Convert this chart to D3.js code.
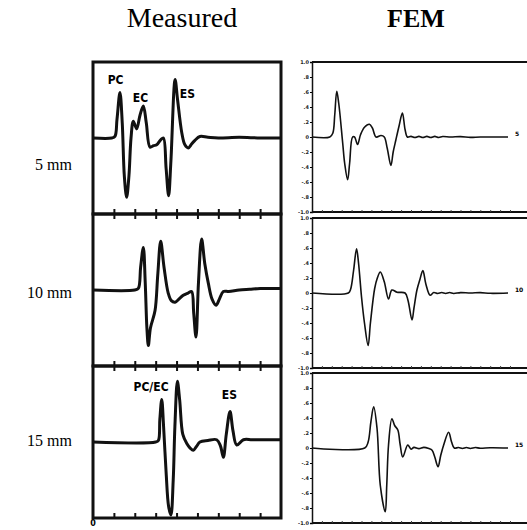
<!DOCTYPE html>
<html>
<head>
<meta charset="utf-8">
<script src="https://cdn.jsdelivr.net/npm/d3@7"></script>
<style>
  body { margin: 0; background: #fff; }
  svg { display: block; }
</style>
</head>
<body>
<main></main>
<script>
// rows and column titles
const rowLabels = ['5 mm', '10 mm', '15 mm'];
const columnTitles = ['Measured', 'FEM'];

// measured traces: [time, amplitude]
const measured5 = [[0,0],[0.9,0],[1.05,0.02],[1.15,0.25],[1.29,0.6],[1.4,0.2],[1.5,-0.5],[1.61,-0.78],[1.72,-0.5],[1.82,0],[1.93,0.22],[2.09,0.12],[2.25,0.3],[2.41,0.42],[2.55,0.2],[2.73,-0.12],[2.9,-0.1],[3.05,-0.09],[3.25,-0.02],[3.37,0],[3.5,-0.4],[3.62,-0.76],[3.73,-0.3],[3.93,0.77],[4.05,0.5],[4.25,0.07],[4.4,-0.09],[4.56,-0.13],[4.72,-0.08],[4.88,-0.03],[5.12,0.02],[5.5,0.01],[6,0],[7,0.01],[8,0],[9,0]];
const measured10 = [[0,0],[2.0,0],[2.17,0.02],[2.28,0.3],[2.41,0.56],[2.5,0.1],[2.58,-0.5],[2.65,-0.73],[2.75,-0.5],[2.97,-0.27],[3.1,0.2],[3.24,0.64],[3.4,0.3],[3.6,-0.04],[3.75,-0.14],[3.93,-0.16],[4.15,-0.11],[4.32,-0.07],[4.55,-0.04],[4.72,-0.02],[4.82,-0.3],[4.93,-0.62],[5.05,0.1],[5.2,0.67],[5.35,0.35],[5.52,0.09],[5.7,-0.12],[5.89,-0.2],[6.05,-0.12],[6.24,-0.02],[6.5,-0.02],[7,0],[7.5,0.01],[8,0.02],[9,0.02]];
const measured15 = [[0,0],[3.0,0],[3.13,0.02],[3.2,0.3],[3.29,0.56],[3.38,0.2],[3.5,-0.4],[3.62,-0.85],[3.73,-0.96],[3.84,-0.5],[3.92,0.2],[4.04,0.8],[4.15,0.55],[4.3,0.1],[4.49,-0.02],[4.65,-0.08],[4.8,-0.11],[4.95,-0.06],[5.12,0],[5.5,0.02],[5.92,0.03],[6.1,-0.05],[6.24,-0.2],[6.38,0.1],[6.56,0.4],[6.7,0.15],[6.88,-0.04],[7.2,0.03],[7.6,0.03],[8,0.03],[9,0.03]];

// FEM traces: [time, amplitude]
const fem5 = [[0,0],[18,0],[21,0.05],[23,0.3],[25,0.61],[27,0.45],[31,-0.08],[33,-0.35],[36,-0.57],[38,-0.35],[41,0],[43,0],[46,-0.1],[49,0.03],[53,0.13],[58,0.17],[61,0.12],[64.7,0],[69.7,0.02],[73,0],[76,-0.15],[79.7,-0.38],[82,-0.2],[84.7,-0.04],[88,0.15],[91.3,0.32],[94,0.1],[96.3,0],[100,0.008],[104,-0.006],[108,0.008],[112,-0.006],[116,0.008],[120,-0.006],[124,0.008],[128,-0.006],[132,0.006],[140,0],[150,0.005],[160,-0.005],[170,0],[198,0]];
const fem10 = [[0,0],[36.7,0],[39,0.05],[42,0.3],[45,0.59],[47,0.4],[50,-0.05],[53,-0.4],[56.7,-0.7],[59,-0.4],[63.3,0.06],[66,0.2],[69,0.28],[73,0.15],[77.3,-0.08],[80.7,0.04],[86,0.01],[94,0],[97,-0.1],[101,-0.36],[103,-0.2],[106,0.04],[109,0.18],[112,0.3],[115,0.12],[119.3,-0.03],[123,0.006],[127,-0.006],[131,0.006],[135,-0.006],[139,0.006],[143,-0.006],[150,0.005],[160,0],[170,0.005],[180,-0.004],[198,0]];
const fem15 = [[0,0],[53.3,0],[56.7,0.08],[59.5,0.35],[62.3,0.55],[65.7,0.26],[69,-0.5],[74,-0.85],[75.5,-0.5],[77.3,0.04],[80.7,0.39],[83.5,0.3],[86.7,0.24],[89,0.05],[91.7,-0.12],[96.7,0.04],[100,-0.015],[103,0.008],[108,-0.008],[113,0.008],[118,-0.008],[121.3,-0.03],[124,-0.12],[127.3,-0.25],[130,-0.1],[133,0.04],[138,0.21],[141,0.08],[143.7,0],[148,0.006],[152,-0.006],[156,0.006],[160,-0.006],[165,0.006],[170,-0.004],[180,0.004],[198,0]];

// peak annotations on the measured traces: [text, time, amplitude]
const notes5 = [['PC', 1.08, 0.71], ['EC', 2.27, 0.48], ['ES', 4.52, 0.53]];
const notes10 = [];
const notes15 = [['PC/EC', 2.78, 0.67], ['ES', 6.53, 0.56]];

const measuredSeries = [measured5, measured10, measured15];
const femSeries = [fem5, fem10, fem15];
const measuredNotes = [notes5, notes10, notes15];
const femEndLabels = ['5', '10', '15'];

// tick values
const measuredTicks = [1, 2, 3, 4, 5, 6, 7, 8];
const femYTicks = [1, 0.8, 0.6, 0.4, 0.2, 0, -0.2, -0.4, -0.6, -0.8, -1];
const femYTickLabels = ['1.0', '.8', '.6', '.4', '.2', '0', '-.2', '-.4', '-.6', '-.8', '-1.0'];
const femXTicks = [10, 20, 30, 40, 50, 60, 70, 80, 90, 100, 110, 120, 130, 140, 150, 160, 170, 180, 190, 200];

const width = 527;
const height = 530;
const serif = "'Liberation Serif', 'Times New Roman', serif";

const svg = d3.select('main')
  .append('svg')
  .attr('width', width)
  .attr('height', height)

// Titles
svg.append('text')
  .attr('x', 182)
  .attr('y', 27)
  .attr('text-anchor', 'middle')
  .style('font-family', serif)
  .style('font-size', '28px')
  .text(columnTitles[0])

svg.append('text')
  .attr('x', 416)
  .attr('y', 27)
  .attr('text-anchor', 'middle')
  .style('font-family', serif)
  .style('font-size', '26px')
  .style('font-weight', 700)
  .text(columnTitles[1])

// Row labels
const rowLabelY = [170, 298, 446];
rowLabels.forEach((label, i) => {
  svg.append('text')
    .attr('x', 72)
    .attr('y', rowLabelY[i])
    .attr('text-anchor', 'end')
    .style('font-family', serif)
    .style('font-size', '16px')
    .text(label)
})

// Measured panels
const mLeft = 93, mRight = 281, mTop = 62, mHeight = 152;
const mx = d3.scaleLinear().domain([0, 9]).range([mLeft, mRight]);

const line = (x, y) => d3.line()
  .x(d => x(d[0]))
  .y(d => y(d[1]))
  .curve(d3.curveCatmullRom.alpha(0.5));

measuredSeries.forEach((series, i) => {
  const top = mTop + i * mHeight;
  const my = d3.scaleLinear().domain([-1, 1]).range([top + mHeight, top]);
  const g = svg.append('g').attr('class', 'measured');

  g.append('rect')
    .attr('x', mLeft)
    .attr('y', top)
    .attr('width', mRight - mLeft)
    .attr('height', mHeight)
    .style('fill', 'none')
    .style('stroke', '#111')
    .style('stroke-width', 3)

  // ticks on the bottom edge, pointing in
  g.append('g')
    .attr('transform', `translate(0, ${top + mHeight})`)
    .call(d3.axisTop(mx).tickValues(measuredTicks).tickSize(5).tickFormat(''))
    .call(a => a.select('.domain').remove())
    .call(a => a.selectAll('line').style('stroke', '#111').style('stroke-width', 2))

  // ticks on the top edge of the lower panels
  if (i > 0) {
    g.append('g')
      .attr('transform', `translate(0, ${top})`)
      .call(d3.axisBottom(mx).tickValues(measuredTicks).tickSize(5).tickFormat(''))
      .call(a => a.select('.domain').remove())
      .call(a => a.selectAll('line').style('stroke', '#111').style('stroke-width', 2))
  }

  g.append('path')
    .datum(series)
    .attr('d', line(mx, my))
    .style('fill', 'none')
    .style('stroke', '#111')
    .style('stroke-width', 3)
    .style('stroke-linejoin', 'round')

  g.selectAll('text.note')
    .data(measuredNotes[i])
    .enter()
    .append('text')
    .attr('class', 'note')
    .attr('x', d => mx(d[1]))
    .attr('y', d => my(d[2]))
    .attr('text-anchor', 'middle')
    .style('font-family', "'Liberation Sans Narrow', 'DejaVu Sans Condensed', sans-serif")
    .style('font-weight', 700)
    .style('font-size', '12px')
    .text(d => d[0])
})

svg.append('text')
  .attr('x', mLeft)
  .attr('y', 526)
  .attr('text-anchor', 'middle')
  .style('font-family', "'DejaVu Sans', sans-serif")
  .style('font-weight', 700)
  .style('font-size', '8px')
  .text('0')

// FEM panels
const fLeft = 312, fTops = [62, 218, 373], fHeight = 150;
const fx = d3.scaleLinear().domain([0, 200]).range([fLeft, 510]);

femSeries.forEach((series, i) => {
  const top = fTops[i];
  const fy = d3.scaleLinear().domain([-1, 1]).range([top + fHeight, top]);
  const g = svg.append('g').attr('class', 'fem');

  g.append('line')
    .attr('x1', fLeft).attr('x2', 545)
    .attr('y1', top).attr('y2', top)
    .style('stroke', '#111')
    .style('stroke-width', 2)

  g.append('g')
    .attr('transform', `translate(0, ${top + fHeight})`)
    .call(d3.axisTop(fx).tickValues(femXTicks).tickSize(2).tickFormat(''))
    .call(a => a.select('.domain')
      .attr('d', `M${fLeft},0H545`)
      .style('stroke', '#111')
      .style('stroke-width', 2))
    .call(a => a.selectAll('.tick line').style('stroke', '#444'))

  g.append('g')
    .attr('transform', `translate(${fLeft}, 0)`)
    .call(d3.axisLeft(fy)
      .tickValues(femYTicks)
      .tickSize(2)
      .tickPadding(1)
      .tickFormat((d, k) => femYTickLabels[k]))
    .call(a => a.select('.domain').style('stroke', '#111').style('stroke-width', 1.5))
    .call(a => a.selectAll('text')
      .style('font-family', "'DejaVu Sans', sans-serif")
      .style('font-size', '5px')
      .style('font-weight', 700)
      .style('fill', '#222'))

  g.append('path')
    .datum(series)
    .attr('d', line(fx, fy))
    .style('fill', 'none')
    .style('stroke', '#111')
    .style('stroke-width', 1.6)
    .style('stroke-linejoin', 'round')

  g.append('text')
    .attr('x', fx(205))
    .attr('y', fy(0) - 1)
    .style('font-family', "'DejaVu Sans', sans-serif")
    .style('font-size', '6px')
    .style('font-weight', 700)
    .text(femEndLabels[i])
})
</script>
</body>
</html>
